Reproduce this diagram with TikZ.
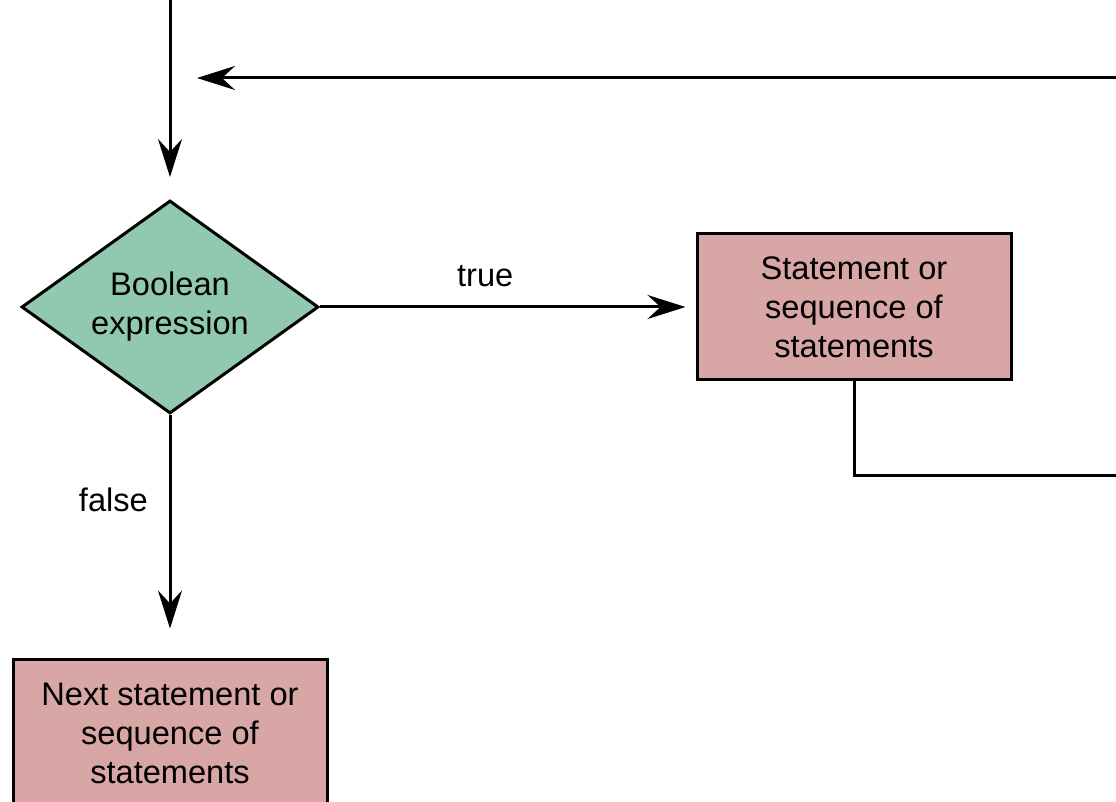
\documentclass[tikz,border=0pt]{standalone}
\usepackage{fontspec}
\setmainfont{Liberation Sans}
\usetikzlibrary{shapes.geometric,arrows.meta,positioning,calc}

\begin{document}
\begin{tikzpicture}
[   x=0.5pt, y=-0.5pt, line width=1.5pt,
    font=\fontsize{16.3pt}{19.5pt}\selectfont,
    decnode/.style={draw=black, diamond, aspect=1.4, inner sep=0pt, align=center, minimum width=148.5pt, minimum height=106.5pt, fill={rgb,255:red,145;green,201;blue,176}},
    stmnode/.style={draw=black, rectangle, align=center, minimum width=157pt, minimum height=73pt, fill={rgb,255:red,217;green,166;blue,166}},
    flow/.style={-{Stealth[length=19pt, width=12pt, inset=6.5pt]}}, ]
    \useasboundingbox (0,0) rectangle (1116,802);
    \clip (0,0) rectangle (1116,802);

    \node[decnode] (cond) at (170,307) {Boolean\\expression};
    \node[stmnode] (body) at (854,307) {Statement or\\sequence of\\statements};
    \node[stmnode] (next) at (170,733) {Next statement or\\sequence of\\statements};

    \coordinate (entry) at (170,-10);
    \coordinate (merge) at (170,78);
    \coordinate (loopin) at (1130,78);
    \coordinate (loopout) at (1130,476);

    \draw[flow, shorten >=11pt] (entry) -- (cond);
    \draw[flow, shorten >=5pt] (cond) -- node[above=6pt, pos=0.44] {true} (body);
    \draw[flow, shorten >=15pt] (cond) -- node[left=7pt, pos=0.35] {false} (next);

    % loop back
    \draw (body.south) -- (body.south |- loopout) -- (loopout);
    \draw[flow, shorten >=13.5pt] (loopin) -- (merge);

\end{tikzpicture}
\end{document}
